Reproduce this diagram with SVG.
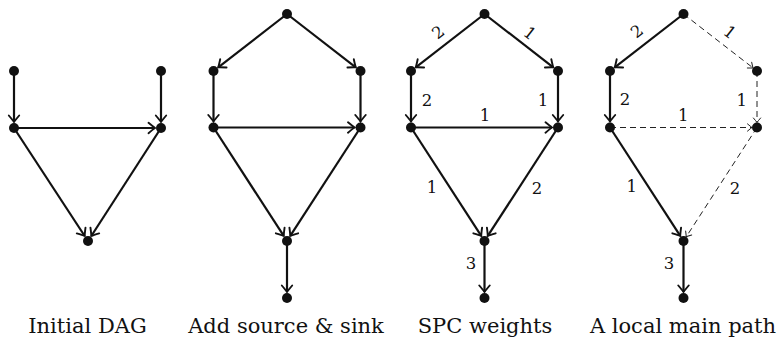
<svg xmlns="http://www.w3.org/2000/svg" width="778" height="337" viewBox="0 0 778 337">
<style>
.e{fill:none;stroke:#111;stroke-width:2.2;marker-end:url(#ah)}
.d{fill:none;stroke:#222;stroke-width:1;stroke-dasharray:6 4;marker-end:url(#ahd)}
.n{fill:#111}
.lb{font-family:'DejaVu Serif',serif;font-size:16.5px;fill:#111;text-anchor:middle}
.cap{font-family:'DejaVu Serif',serif;font-size:21px;fill:#111;text-anchor:middle}
</style>
<defs>
<marker id="ah" markerUnits="userSpaceOnUse" viewBox="-9 -7 11 14" markerWidth="11" markerHeight="14" refX="0" refY="0" orient="auto">
<path d="M -6.5 -5.2 Q -1.8 -1.2 0 0 Q -1.8 1.2 -6.5 5.2" fill="none" stroke="#111" stroke-width="1.9" stroke-linecap="round"/>
</marker>
<marker id="ahd" markerUnits="userSpaceOnUse" viewBox="-8 -6 10 12" markerWidth="10" markerHeight="12" refX="0" refY="0" orient="auto">
<path d="M -4.5 -3.6 Q -1.2 -0.8 0 0 Q -1.2 0.8 -4.5 3.6" fill="none" stroke="#222" stroke-width="1" stroke-linecap="round"/>
</marker>
</defs>

<!-- Panel 1 -->
<g id="panel1">
<g id="p1-edges">
<line class="e" x1="14" y1="71" x2="14" y2="122"/>
<line class="e" x1="161" y1="71" x2="161" y2="122"/>
<line class="e" x1="14" y1="128" x2="155" y2="128"/>
<line class="e" x1="14" y1="128" x2="84.7" y2="236"/>
<line class="e" x1="161" y1="128" x2="91.3" y2="236"/>
</g>
<g id="p1-a"><circle class="n" r="5" cx="14" cy="71"/></g>
<g id="p1-b"><circle class="n" r="5" cx="161" cy="71"/></g>
<g id="p1-c"><circle class="n" r="5" cx="14" cy="128"/></g>
<g id="p1-d"><circle class="n" r="5" cx="161" cy="128"/></g>
<g id="p1-e"><circle class="n" r="5" cx="88" cy="241"/></g>
</g>

<!-- Panel 2 -->
<g id="panel2">
<g id="p2-edges">
<line class="e" x1="287" y1="14" x2="218.24" y2="67.32"/>
<line class="e" x1="287" y1="14" x2="355.76" y2="67.32"/>
<line class="e" x1="213.5" y1="71" x2="213.5" y2="121.5"/>
<line class="e" x1="360.5" y1="71" x2="360.5" y2="121.5"/>
<line class="e" x1="213.5" y1="127.5" x2="354.5" y2="127.5"/>
<line class="e" x1="213.5" y1="127.5" x2="283.74" y2="235.96"/>
<line class="e" x1="360.5" y1="127.5" x2="290.26" y2="235.96"/>
<line class="e" x1="287" y1="241" x2="287" y2="292"/>
</g>
<g id="p2-s"><circle class="n" r="5" cx="287" cy="14"/></g>
<g id="p2-l"><circle class="n" r="5" cx="213.5" cy="71"/></g>
<g id="p2-r"><circle class="n" r="5" cx="360.5" cy="71"/></g>
<g id="p2-ml"><circle class="n" r="5" cx="213.5" cy="127.5"/></g>
<g id="p2-mr"><circle class="n" r="5" cx="360.5" cy="127.5"/></g>
<g id="p2-b"><circle class="n" r="5" cx="287" cy="241"/></g>
<g id="p2-t"><circle class="n" r="5" cx="287" cy="298"/></g>
</g>

<!-- Panel 3 -->
<g id="panel3" transform="translate(197.5,0)">
<g id="p3-edges">
<line class="e" x1="287" y1="14" x2="218.24" y2="67.32"/>
<line class="e" x1="287" y1="14" x2="355.76" y2="67.32"/>
<line class="e" x1="213.5" y1="71" x2="213.5" y2="121.5"/>
<line class="e" x1="360.5" y1="71" x2="360.5" y2="121.5"/>
<line class="e" x1="213.5" y1="127.5" x2="354.5" y2="127.5"/>
<line class="e" x1="213.5" y1="127.5" x2="283.74" y2="235.96"/>
<line class="e" x1="360.5" y1="127.5" x2="290.26" y2="235.96"/>
<line class="e" x1="287" y1="241" x2="287" y2="292"/>
</g>
<g id="p3-labels">
<text class="lb" transform="translate(240.5,32) rotate(-37.8)" y="6">2</text>
<text class="lb" transform="translate(332.5,33) rotate(37.8)" y="6">1</text>
<text class="lb" x="229.5" y="106">2</text>
<text class="lb" x="345.5" y="106">1</text>
<text class="lb" x="287.5" y="121">1</text>
<text class="lb" x="234.5" y="193">1</text>
<text class="lb" x="339.5" y="194">2</text>
<text class="lb" x="273.5" y="269">3</text>
</g>
<g id="p3-s"><circle class="n" r="5" cx="287" cy="14"/></g>
<g id="p3-l"><circle class="n" r="5" cx="213.5" cy="71"/></g>
<g id="p3-r"><circle class="n" r="5" cx="360.5" cy="71"/></g>
<g id="p3-ml"><circle class="n" r="5" cx="213.5" cy="127.5"/></g>
<g id="p3-mr"><circle class="n" r="5" cx="360.5" cy="127.5"/></g>
<g id="p3-b"><circle class="n" r="5" cx="287" cy="241"/></g>
<g id="p3-t"><circle class="n" r="5" cx="287" cy="298"/></g>
</g>

<!-- Panel 4 -->
<g id="panel4" transform="translate(396.5,0)">
<g id="p4-edges">
<line class="e" x1="287" y1="14" x2="218.24" y2="67.32"/>
<line class="d" x1="287" y1="14" x2="356.55" y2="67.93"/>
<line class="e" x1="213.5" y1="71" x2="213.5" y2="121.5"/>
<line class="d" x1="360.5" y1="71" x2="360.5" y2="122.5"/>
<line class="d" x1="213.5" y1="127.5" x2="355.5" y2="127.5"/>
<line class="e" x1="213.5" y1="127.5" x2="283.74" y2="235.96"/>
<line class="d" x1="360.5" y1="127.5" x2="289.72" y2="236.8"/>
<line class="e" x1="287" y1="241" x2="287" y2="292"/>
</g>
<g id="p4-labels">
<text class="lb" transform="translate(240.3,31) rotate(-37.8)" y="6">2</text>
<text class="lb" transform="translate(333.5,32) rotate(37.8)" y="6">1</text>
<text class="lb" x="228.5" y="105">2</text>
<text class="lb" x="345.2" y="106">1</text>
<text class="lb" x="286.8" y="121">1</text>
<text class="lb" x="235.2" y="192">1</text>
<text class="lb" x="338.5" y="194">2</text>
<text class="lb" x="272.5" y="269">3</text>
</g>
<g id="p4-s"><circle class="n" r="5" cx="287" cy="14"/></g>
<g id="p4-l"><circle class="n" r="5" cx="213.5" cy="71"/></g>
<g id="p4-r"><circle class="n" r="5" cx="360.5" cy="71"/></g>
<g id="p4-ml"><circle class="n" r="5" cx="213.5" cy="127.5"/></g>
<g id="p4-mr"><circle class="n" r="5" cx="360.5" cy="127.5"/></g>
<g id="p4-b"><circle class="n" r="5" cx="287" cy="241"/></g>
<g id="p4-t"><circle class="n" r="5" cx="287" cy="298"/></g>
</g>

<g id="captions">
<text class="cap" x="87.5" y="333">Initial DAG</text>
<text class="cap" x="286" y="333">Add source &amp; sink</text>
<text class="cap" x="485" y="333">SPC weights</text>
<text class="cap" x="683" y="333">A local main path</text>
</g>
</svg>
